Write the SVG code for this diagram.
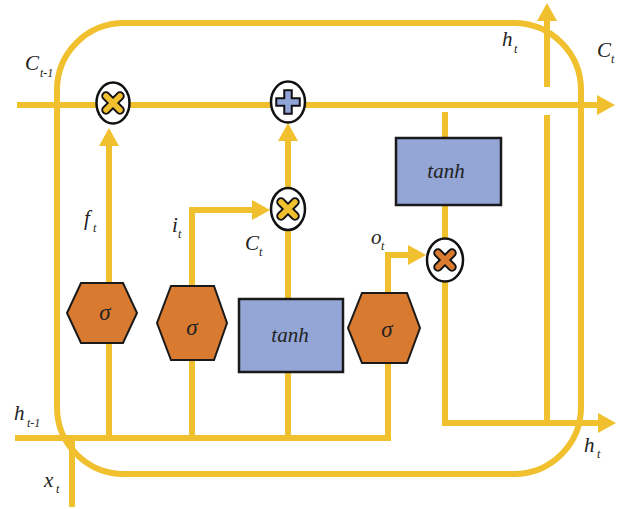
<svg xmlns="http://www.w3.org/2000/svg" width="626" height="509" viewBox="0 0 626 509">
  <style>
    .wire { fill: none; stroke: #F0C02E; stroke-width: 6; stroke-linejoin: miter; }
    .cell { fill: none; stroke: #F0C02E; stroke-width: 6; }
    .gate { fill: #D97A31; stroke: #1a1a1a; stroke-width: 2; }
    .layer { fill: #93A6D6; stroke: #1a1a1a; stroke-width: 2.5; }
    .op { fill: #ffffff; stroke: #111111; stroke-width: 2.5; }
    .sym-edge { fill: none; stroke: #111111; stroke-width: 9.5; stroke-linecap: round; }
    .sym-x { fill: none; stroke: #F0C02E; stroke-width: 5.5; stroke-linecap: round; }
    .sym-xo { fill: none; stroke: #D97A31; stroke-width: 5.5; stroke-linecap: round; }
    .sym-p-edge { fill: none; stroke: #111111; stroke-width: 9.5; stroke-linecap: square; }
    .sym-p { fill: none; stroke: #8FA5D8; stroke-width: 5.5; stroke-linecap: square; }
    text { font-family: "Liberation Serif", "DejaVu Serif", serif; font-style: italic; fill: #222222; }
    .lbl { font-size: 21px; }
    .sub { font-size: 12px; }
    .fn { font-size: 21px; text-anchor: middle; }
    .sg { font-size: 23px; text-anchor: middle; }
  </style>
  <defs>
    <marker id="arrow" viewBox="0 0 18 20" refX="1" refY="10" markerWidth="18" markerHeight="20" markerUnits="userSpaceOnUse" orient="auto">
      <path d="M0,0 L18,10 L0,20 z" fill="#F0C02E"/>
    </marker>
  </defs>

  <!-- cell boundary -->
  <rect id="cell" class="cell" x="57" y="23" width="524" height="451" rx="67" ry="67"/>

  <!-- connectors -->
  <g id="connectors">
    <!-- cell state line -->
    <path class="wire" d="M17,105 H598" marker-end="url(#arrow)"/>
    <!-- forget gate to cell multiply -->
    <path class="wire" d="M109,283 V145" marker-end="url(#arrow)"/>
    <!-- input gate to candidate multiply -->
    <path class="wire" d="M192,286 V210 H253" marker-end="url(#arrow)"/>
    <!-- candidate path -->
    <path class="wire" d="M288,299 V230"/>
    <path class="wire" d="M288,188 V140" marker-end="url(#arrow)"/>
    <!-- output gate to output multiply -->
    <path class="wire" d="M388,293 V255 H409" marker-end="url(#arrow)"/>
    <!-- cell state through tanh -->
    <path class="wire" d="M445,112 V138"/>
    <path class="wire" d="M445,205 V239"/>
    <!-- hidden state output -->
    <path class="wire" d="M445,281 V423 H599" marker-end="url(#arrow)"/>
    <path class="wire" d="M547,423 V115"/>
    <path class="wire" d="M547,87 V20" marker-end="url(#arrow)"/>
    <!-- input bus h(t-1), x(t) -->
    <path class="wire" d="M15,438 H388 V363"/>
    <path class="wire" d="M72,507 V438"/>
    <path class="wire" d="M109,438 V343"/>
    <path class="wire" d="M192,438 V360"/>
    <path class="wire" d="M288,438 V372"/>
  </g>

  <!-- pointwise operations -->
  <g id="mul-forget">
    <ellipse class="op" cx="113" cy="103" rx="16.5" ry="20.5"/>
    <path class="sym-edge" d="M106,96 L120,110 M120,96 L106,110"/>
    <path class="sym-x" d="M106,96 L120,110 M120,96 L106,110"/>
  </g>
  <g id="add-cell">
    <ellipse class="op" cx="288" cy="102" rx="17" ry="20.5"/>
    <path class="sym-p-edge" d="M288,94 V110 M280,102 H296"/>
    <path class="sym-p" d="M288,94 V110 M280,102 H296"/>
  </g>
  <g id="mul-input">
    <ellipse class="op" cx="288" cy="209" rx="17" ry="21"/>
    <path class="sym-edge" d="M281,202 L295,216 M295,202 L281,216"/>
    <path class="sym-x" d="M281,202 L295,216 M295,202 L281,216"/>
  </g>
  <g id="mul-output">
    <ellipse class="op" cx="445" cy="260" rx="18" ry="21.5"/>
    <path class="sym-edge" d="M438,253 L452,267 M452,253 L438,267"/>
    <path class="sym-xo" d="M438,253 L452,267 M452,253 L438,267"/>
  </g>

  <!-- gates -->
  <g id="gate-forget">
    <polygon class="gate" points="81,283 123,283 137,313 123,343 81,343 67,313"/>
    <text class="sg" x="105" y="320">σ</text>
  </g>
  <g id="gate-input">
    <polygon class="gate" points="171,286 214,286 227,323 214,360 171,360 157,323"/>
    <text class="sg" x="192" y="335">σ</text>
  </g>
  <g id="layer-candidate">
    <rect class="layer" x="239" y="299" width="104" height="73"/>
    <text class="fn" x="290" y="342">tanh</text>
  </g>
  <g id="gate-output">
    <polygon class="gate" points="362,293 407,293 420,328 407,363 362,363 348,328"/>
    <text class="sg" x="387" y="337">σ</text>
  </g>
  <g id="layer-output-tanh">
    <rect class="layer" x="396" y="138" width="105" height="67"/>
    <text class="fn" x="446" y="178">tanh</text>
  </g>

  <!-- labels -->
  <g id="labels">
    <text class="lbl" x="25" y="70">C</text><text class="sub" x="40" y="77">t-1</text>
    <text class="lbl" x="502" y="46">h</text><text class="sub" x="514" y="53">t</text>
    <text class="lbl" x="597" y="57">C</text><text class="sub" x="611" y="63">t</text>
    <text class="lbl" x="84" y="225">f</text><text class="sub" x="93" y="232">t</text>
    <text class="lbl" x="172" y="232">i</text><text class="sub" x="178" y="238">t</text>
    <text class="lbl" x="245" y="250">C</text><text class="sub" x="259" y="256">t</text>
    <text class="lbl" x="371" y="244">o</text><text class="sub" x="381" y="250">t</text>
    <text class="lbl" x="14" y="420">h</text><text class="sub" x="27" y="427">t-1</text>
    <text class="lbl" x="44" y="487">x</text><text class="sub" x="56" y="493">t</text>
    <text class="lbl" x="584" y="452">h</text><text class="sub" x="597" y="458">t</text>
  </g>
</svg>
